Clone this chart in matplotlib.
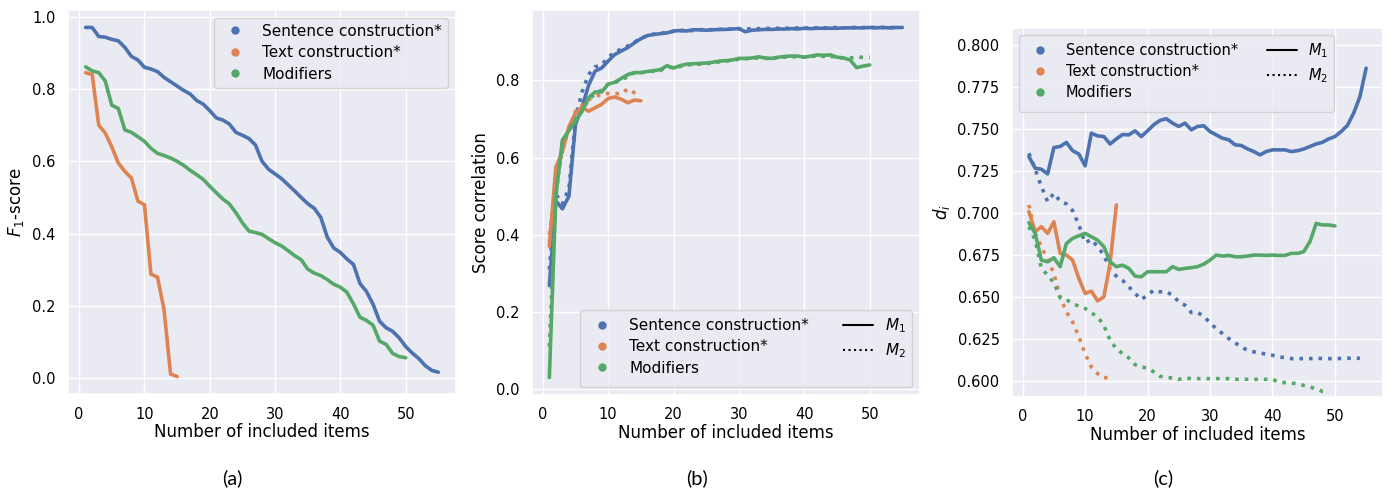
import numpy as np
import matplotlib
matplotlib.use("Agg")
import matplotlib.pyplot as plt
from matplotlib.lines import Line2D
import seaborn as sns

# categories and colours
categories = ["Sentence construction*", "Text construction*", "Modifiers"]
colors = ["#4C72B0", "#DD8452", "#55A868"]

# (a) F1-score vs number of included items
f1_sentence = [0.97, 0.97, 0.945, 0.943, 0.937, 0.933, 0.915, 0.89, 0.88, 0.86,
               0.855, 0.848, 0.832, 0.82, 0.808, 0.796, 0.786, 0.768, 0.758, 0.74,
               0.72, 0.714, 0.703, 0.68, 0.672, 0.663, 0.645, 0.60, 0.578, 0.565,
               0.552, 0.535, 0.518, 0.50, 0.483, 0.47, 0.445, 0.39, 0.36, 0.348,
               0.33, 0.315, 0.262, 0.24, 0.205, 0.158, 0.14, 0.13, 0.112, 0.088,
               0.07, 0.055, 0.035, 0.022, 0.017]
f1_text = [0.845, 0.84, 0.70, 0.678, 0.64, 0.595, 0.572, 0.554, 0.49, 0.48,
           0.288, 0.28, 0.19, 0.012, 0.005]
f1_modifiers = [0.861, 0.85, 0.845, 0.822, 0.755, 0.746, 0.687, 0.68, 0.668, 0.655,
                0.636, 0.622, 0.616, 0.609, 0.60, 0.589, 0.575, 0.563, 0.55, 0.531,
                0.513, 0.496, 0.482, 0.458, 0.43, 0.407, 0.403, 0.398, 0.386, 0.375,
                0.366, 0.353, 0.339, 0.328, 0.302, 0.291, 0.284, 0.273, 0.26, 0.252,
                0.238, 0.206, 0.169, 0.16, 0.147, 0.103, 0.094, 0.069, 0.06, 0.057]

# (b) score correlation, M1 (solid) and M2 (dotted)
corr_sentence_m1 = [0.268, 0.488, 0.467, 0.50, 0.686, 0.73, 0.787, 0.824, 0.832, 0.85,
                    0.867, 0.876, 0.885, 0.897, 0.908, 0.916, 0.919, 0.921, 0.923, 0.928,
                    0.929, 0.928, 0.931, 0.931, 0.930, 0.931, 0.932, 0.932, 0.933, 0.934,
                    0.926, 0.930, 0.931, 0.932, 0.932, 0.933, 0.933, 0.934, 0.933, 0.935,
                    0.934, 0.935, 0.935, 0.935, 0.935, 0.936, 0.936, 0.936, 0.936, 0.937,
                    0.936, 0.937, 0.936, 0.937, 0.937]
corr_sentence_m2 = [0.31, 0.505, 0.48, 0.52, 0.70, 0.77, 0.815, 0.835, 0.84, 0.86,
                    0.873, 0.881, 0.889, 0.899, 0.909, 0.916, 0.92, 0.922, 0.924, 0.927,
                    0.929, 0.93, 0.929, 0.931, 0.932, 0.931, 0.932, 0.933, 0.933, 0.934,
                    0.933, 0.934, 0.934, 0.935, 0.934, 0.935, 0.935, 0.935, 0.936, 0.935,
                    0.936, 0.936, 0.936, 0.936, 0.937, 0.936, 0.937, 0.937, 0.937, 0.937,
                    0.937, 0.937, 0.937, 0.937]
corr_text_m1 = [0.37, 0.575, 0.615, 0.68, 0.715, 0.73, 0.72, 0.729, 0.738, 0.753,
                0.757, 0.751, 0.742, 0.749, 0.747]
corr_text_m2 = [0.40, 0.52, 0.62, 0.675, 0.72, 0.735, 0.75, 0.757, 0.765, 0.766,
                0.766, 0.765, 0.778, 0.768, 0.765]
corr_modifiers_m1 = [0.03, 0.50, 0.645, 0.67, 0.695, 0.72, 0.755, 0.77, 0.77, 0.79,
                     0.795, 0.805, 0.815, 0.82, 0.82, 0.823, 0.825, 0.828, 0.838, 0.832,
                     0.838, 0.842, 0.843, 0.844, 0.845, 0.847, 0.85, 0.851, 0.853, 0.857,
                     0.857, 0.858, 0.861, 0.858, 0.857, 0.86, 0.862, 0.863, 0.863, 0.86,
                     0.863, 0.866, 0.865, 0.866, 0.86, 0.858, 0.853, 0.833, 0.837, 0.84]
corr_modifiers_m2 = [0.11, 0.50, 0.64, 0.67, 0.70, 0.72, 0.75, 0.765, 0.775, 0.79,
                     0.795, 0.80, 0.81, 0.82, 0.82, 0.822, 0.824, 0.826, 0.834, 0.833,
                     0.836, 0.84, 0.841, 0.842, 0.843, 0.845, 0.848, 0.85, 0.852, 0.855,
                     0.856, 0.857, 0.858, 0.857, 0.856, 0.859, 0.86, 0.861, 0.861, 0.86,
                     0.862, 0.863, 0.862, 0.862, 0.86, 0.858, 0.858, 0.86, 0.86, 0.86]

# (c) d_i, M1 (solid) and M2 (dotted)
d_sentence_m1 = [0.7335, 0.7266, 0.726, 0.7232, 0.7389, 0.7395, 0.7419, 0.737, 0.735, 0.728,
                 0.7474, 0.7458, 0.7454, 0.741, 0.744, 0.7466, 0.7464, 0.7488, 0.7454, 0.7488,
                 0.7524, 0.755, 0.756, 0.7534, 0.7514, 0.7534, 0.7494, 0.7514, 0.7518, 0.7484,
                 0.7464, 0.7444, 0.7435, 0.7405, 0.7401, 0.7381, 0.7365, 0.7345, 0.7365, 0.7375,
                 0.7375, 0.7375, 0.7365, 0.737, 0.738, 0.7395, 0.741, 0.742, 0.744, 0.7454,
                 0.7484, 0.752, 0.7593, 0.769, 0.786]
d_sentence_m2 = [0.7355, 0.726, 0.7157, 0.7068, 0.7117, 0.707, 0.7054, 0.7014, 0.6929, 0.6823,
                 0.6843, 0.68, 0.675, 0.6665, 0.6625, 0.66, 0.6561, 0.6522, 0.6486, 0.6512,
                 0.6542, 0.6532, 0.6532, 0.6512, 0.6472, 0.6452, 0.6409, 0.6409, 0.6387, 0.6347,
                 0.6313, 0.6284, 0.6254, 0.623, 0.6204, 0.6185, 0.6175, 0.6169, 0.6161, 0.6155,
                 0.6145, 0.6141, 0.6135, 0.6135, 0.6135, 0.6135, 0.6138, 0.6135, 0.6135, 0.6135,
                 0.6136, 0.6137, 0.6137, 0.6137]
d_text_m1 = [0.7008, 0.6889, 0.6919, 0.6879, 0.6948, 0.676, 0.675, 0.672, 0.6611, 0.6522,
             0.6536, 0.6478, 0.6502, 0.67, 0.7048]
d_text_m2 = [0.7048, 0.6879, 0.68, 0.672, 0.6641, 0.6502, 0.6413, 0.6353, 0.6264, 0.6165,
             0.6085, 0.6046, 0.602, 0.6026]
d_modifiers_m1 = [0.6942, 0.6879, 0.672, 0.671, 0.6734, 0.6681, 0.6819, 0.6849, 0.6865, 0.6879,
                  0.6859, 0.6839, 0.68, 0.671, 0.6681, 0.669, 0.6671, 0.6625, 0.6621, 0.6651,
                  0.6651, 0.6651, 0.6651, 0.6681, 0.6665, 0.6671, 0.6675, 0.6681, 0.6696, 0.672,
                  0.675, 0.6744, 0.6748, 0.674, 0.674, 0.6744, 0.675, 0.675, 0.6748, 0.675,
                  0.6748, 0.6748, 0.676, 0.676, 0.677, 0.6829, 0.6938, 0.6929, 0.6929, 0.6923]
d_modifiers_m2 = [0.6919, 0.6839, 0.6671, 0.6631, 0.6585, 0.6496, 0.6486, 0.6462, 0.6446, 0.6433,
                  0.6407, 0.6383, 0.6333, 0.6244, 0.6194, 0.6165, 0.6139, 0.6099, 0.6085, 0.6079,
                  0.6056, 0.603, 0.6022, 0.602, 0.6012, 0.602, 0.6016, 0.6016, 0.6016, 0.6016,
                  0.6016, 0.6016, 0.6016, 0.6012, 0.6012, 0.6012, 0.6012, 0.6012, 0.6012, 0.6012,
                  0.5996, 0.5992, 0.599, 0.5986, 0.5976, 0.5966, 0.5956, 0.594, 0.5937]

sns.set_theme(style="darkgrid")
plt.rcParams["font.family"] = ["DejaVu Sans"]
plt.rcParams["text.color"] = "black"
plt.rcParams["axes.labelcolor"] = "black"
plt.rcParams["xtick.color"] = "black"
plt.rcParams["ytick.color"] = "black"
LW = 2.6


def xs(vals):
    return np.arange(1, len(vals) + 1)


def style_axis(ax, ylabel):
    ax.set_xlabel("Number of included items", fontsize=12, labelpad=1)
    ax.set_ylabel(ylabel, fontsize=12, labelpad=4)
    ax.tick_params(labelsize=10.5, pad=3)
    ax.set_xticks([0, 10, 20, 30, 40, 50])


def make_legend(ax, loc, with_models=True, size=11, colsp=2.2):
    handles = [Line2D([], [], marker="o", ls="", color=c, markersize=5) for c in colors]
    labels = list(categories)
    ncol = 1
    if with_models:
        handles += [Line2D([], [], color="black", lw=1.5, ls="-"),
                    Line2D([], [], color="black", lw=1.5, ls=":"),
                    Line2D([], [], ls="", marker="")]
        labels += ["$M_1$", "$M_2$", ""]
        ncol = 2
    ax.legend(handles, labels, loc=loc, ncol=ncol, fontsize=size,
              handlelength=2.0, columnspacing=colsp, labelspacing=0.42)


fig = plt.figure(figsize=(13.94, 4.9), dpi=100)
ax_a = fig.add_axes([0.0488, 0.1959, 0.2783, 0.7837])
ax_b = fig.add_axes([0.3814, 0.1939, 0.2786, 0.7857])
ax_c = fig.add_axes([0.7260, 0.1898, 0.2661, 0.7531])

# (a)
for vals, c in zip([f1_sentence, f1_text, f1_modifiers], colors):
    ax_a.plot(xs(vals), vals, color=c, lw=LW)
style_axis(ax_a, "$F_1$-score")
make_legend(ax_a, "upper right", with_models=False)

# (b)
for m1, m2, c in zip([corr_sentence_m1, corr_text_m1, corr_modifiers_m1],
                     [corr_sentence_m2, corr_text_m2, corr_modifiers_m2], colors):
    ax_b.plot(xs(m1), m1, color=c, lw=LW, ls="-")
    ax_b.plot(xs(m2), m2, color=c, lw=LW, ls=":")
style_axis(ax_b, "Score correlation")
make_legend(ax_b, "lower right")

# (c)
for m1, m2, c in zip([d_sentence_m1, d_text_m1, d_modifiers_m1],
                     [d_sentence_m2, d_text_m2, d_modifiers_m2], colors):
    ax_c.plot(xs(m1), m1, color=c, lw=LW, ls="-")
    ax_c.plot(xs(m2), m2, color=c, lw=LW, ls=":")
ax_c.set_ylim(0.5907, 0.8099)
style_axis(ax_c, "$d_i$")
make_legend(ax_c, "upper left", size=10.5, colsp=2.0)

# sub-figure captions
for xpos, cap in [(232, "(a)"), (697, "(b)"), (1163, "(c)")]:
    fig.text(xpos / 1394, 1 - 478 / 490, cap, ha="center", va="center",
             fontsize=14.5, family=["Lato", "DejaVu Sans"])

fig.savefig("out.png", dpi=100)
